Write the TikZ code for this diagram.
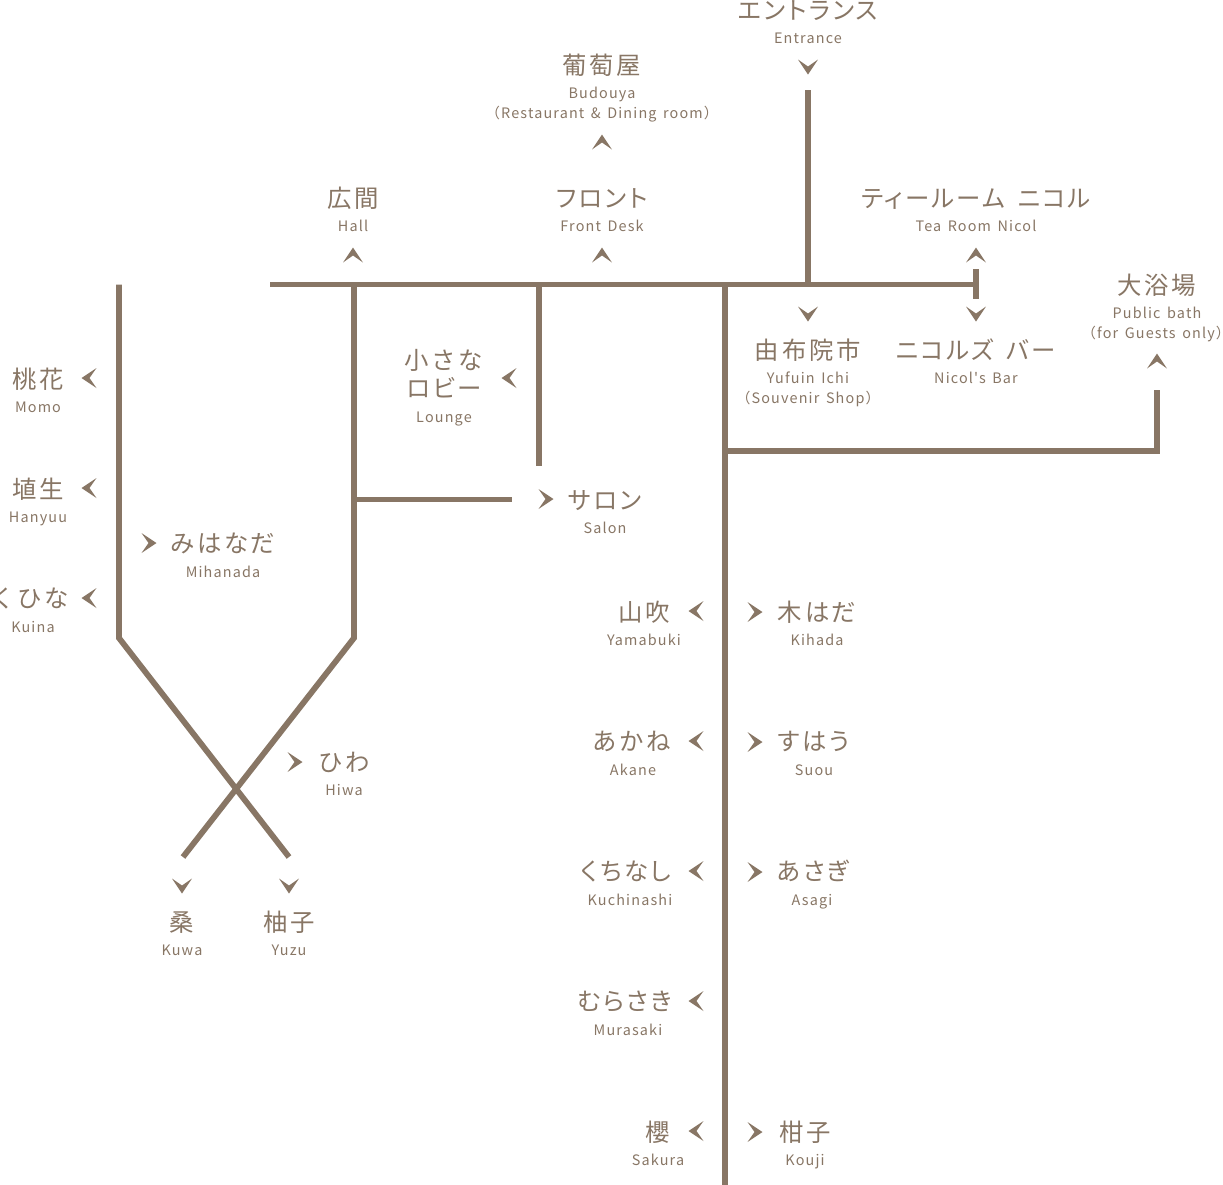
\documentclass[tikz,border=0pt]{standalone}
\usepackage{fontspec}
\newfontfamily\jpfont[LetterSpace=11.5]{Noto Sans CJK JP}
\newfontfamily\kanafont[LetterSpace=9.5,WordSpace=1.6,RawFeature=+palt]{Noto Sans CJK JP}
\newfontfamily\enfont[LetterSpace=8,WordSpace=1.5]{Noto Sans CJK JP}
\definecolor{routecol}{HTML}{887665}
\tikzset{
  route/.style={draw=routecol,line width=2.9pt},
  jplabel/.style={text=routecol,font=\jpfont\fontsize{12.2}{14}\selectfont,text height=10.6pt,text depth=1.5pt,inner sep=0pt},
  kanalabel/.style={jplabel,font=\kanafont\fontsize{12.2}{14}\selectfont},
  enlabel/.style={text=routecol,font=\enfont\fontsize{7.2}{10}\selectfont,text height=6pt,text depth=0.3pt,inner sep=0pt},
  chev/.pic={\fill[routecol] (-7.5,-10) -- (7.5,0) -- (-7.5,10) -- (-0.5,0) -- cycle;}
}
\begin{document}
\begin{tikzpicture}[x=0.5pt,y=-0.5pt]
\useasboundingbox (0,0) rectangle (1223,1185);

% Junctions
\coordinate (hallend) at (270,284.5);
\coordinate (teaend) at (976,284.5);
\coordinate (teatop) at (976,269);
\coordinate (teabot) at (976,299);
\coordinate (enttop) at (808,90);
\coordinate (entbot) at (808,284.5);
\coordinate (maintop) at (725,284.5);
\coordinate (mainbot) at (725,1185);
\coordinate (bathj) at (725,451);
\coordinate (bathc) at (1157,451);
\coordinate (bathtop) at (1157,390);
\coordinate (loungetop) at (539,284.5);
\coordinate (loungebot) at (539,466);
\coordinate (halltop) at (354,284.5);
\coordinate (hallbot) at (354,638);
\coordinate (kuwaend) at (183,857);
\coordinate (salonj) at (354,499.5);
\coordinate (salonend) at (512,499.5);
\coordinate (lefttop) at (119,284.5);
\coordinate (leftbot) at (119,638);
\coordinate (yuzuend) at (289,857);

% Routes
\draw[route] (hallend) -- (teaend);
\draw[route] (teatop) -- (teabot);
\draw[route] (enttop) -- (entbot);
\draw[route] (maintop) -- (mainbot);
\draw[route,line join=miter] (bathj) -- (bathc) -- (bathtop);
\draw[route] (loungetop) -- (loungebot);
\draw[route] (halltop) -- (hallbot) -- (kuwaend);
\draw[route] (salonj) -- (salonend);
\draw[route] (lefttop) -- (leftbot) -- (yuzuend);

% Chevrons
\foreach \x/\y in {149/543,295/762,546/499,755/612,755/742,755/872,755/1132}
  \pic at (\x,\y) {chev};
\foreach \x/\y in {89/378,89/488,89/598,509/378,696/611,696/741,696/871,696/1001,696/1131}
  \pic[rotate=180] at (\x,\y) {chev};
\foreach \x/\y in {808/67,808/314,976/314,182/886,289/886}
  \pic[rotate=-90] at (\x,\y) {chev};
\foreach \x/\y in {602/142,353/255,602/255,976/255,1157/361}
  \pic[rotate=90] at (\x,\y) {chev};

% Top
\node[kanalabel] (entrance) at (808,10) {エントランス};
\node[enlabel] (entranceen) at (808,38) {Entrance};
\node[jplabel] (budouya) at (602,65) {葡萄屋};
\node[enlabel] (budouyaen) at (602,93) {Budouya};
\node[enlabel] (budouyanote) at (602,113) {（Restaurant \& Dining room）};
\node[jplabel] (hall) at (353,198) {広間};
\node[enlabel] (hallen) at (353,226) {Hall};
\node[kanalabel] (front) at (602,198) {フロント};
\node[enlabel] (fronten) at (602,226) {Front Desk};
\node[kanalabel] (tearoom) at (976,198) {ティールーム ニコル};
\node[enlabel] (tearoomen) at (976,226) {Tea Room Nicol};
\node[jplabel] (bath) at (1157,285) {大浴場};
\node[enlabel] (bathen) at (1157,313) {Public bath};
\node[enlabel] (bathnote) at (1156,333) {（for Guests only）};
\node[jplabel] (yufuin) at (808,350) {由布院市};
\node[enlabel] (yufuinen) at (808,378) {Yufuin Ichi};
\node[enlabel] (yufuinnote) at (808,398) {（Souvenir Shop）};
\node[kanalabel] (nicol) at (976,350) {ニコルズ バー};
\node[enlabel] (nicolen) at (976,378) {Nicol's Bar};

% Left wing
\node[jplabel] (momo) at (38,379) {桃花};
\node[enlabel] (momoen) at (38,407) {Momo};
\node[jplabel] (hanyuu) at (38,489) {埴生};
\node[enlabel] (hanyuuen) at (38,517) {Hanyuu};
\node[jplabel] (kuina) at (30,598) {くひな};
\node[enlabel] (kuinaen) at (33,627) {Kuina};
\node[kanalabel] (mihanada) at (223,543) {みはなだ};
\node[enlabel] (mihanadaen) at (223,572) {Mihanada};
\node[jplabel] (hiwa) at (344,762) {ひわ};
\node[enlabel] (hiwaen) at (344,790) {Hiwa};
\node[jplabel] (kuwa) at (182,922) {桑};
\node[enlabel] (kuwaen) at (182,950) {Kuwa};
\node[jplabel] (yuzu) at (289,922) {柚子};
\node[enlabel] (yuzuen) at (289,950) {Yuzu};

% Middle
\node[jplabel] (lounge) at (444,360) {小さな};
\node[kanalabel] (loungeb) at (444,388) {ロビー};
\node[enlabel] (loungeen) at (444,417) {Lounge};
\node[kanalabel] (salon) at (605,500) {サロン};
\node[enlabel] (salonen) at (605,528) {Salon};

% Main corridor, left side
\node[jplabel] (yamabuki) at (644,612) {山吹};
\node[enlabel] (yamabukien) at (644,640) {Yamabuki};
\node[jplabel] (akane) at (632,741) {あかね};
\node[enlabel] (akaneen) at (633,770) {Akane};
\node[kanalabel] (kuchinashi) at (626,871) {くちなし};
\node[enlabel] (kuchinashien) at (630,900) {Kuchinashi};
\node[kanalabel] (murasaki) at (625,1001) {むらさき};
\node[enlabel] (murasakien) at (628,1030) {Murasaki};
\node[jplabel] (sakura) at (658,1132) {櫻};
\node[enlabel] (sakuraen) at (658,1160) {Sakura};

% Main corridor, right side
\node[jplabel] (kihada) at (817,612) {木はだ};
\node[enlabel] (kihadaen) at (817,640) {Kihada};
\node[kanalabel] (suou) at (814,741) {すはう};
\node[enlabel] (suouen) at (814,770) {Suou};
\node[kanalabel] (asagi) at (813,871) {あさぎ};
\node[enlabel] (asagien) at (812,900) {Asagi};
\node[jplabel] (kouji) at (805,1132) {柑子};
\node[enlabel] (koujien) at (805,1160) {Kouji};
\end{tikzpicture}
\end{document}
